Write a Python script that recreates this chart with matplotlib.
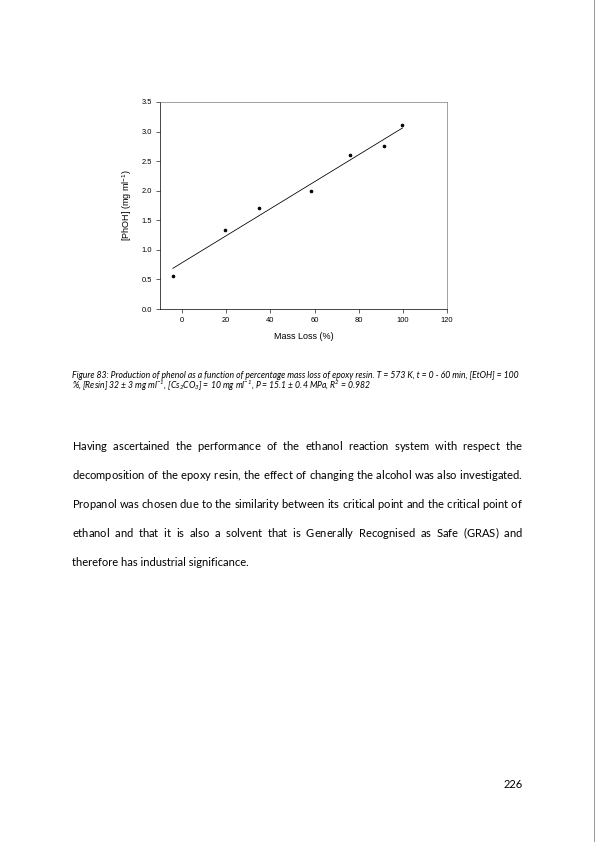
import numpy as np
import matplotlib
matplotlib.use('Agg')
import matplotlib.pyplot as plt

# Datos
mass_loss = [-4.2, 19.3, 34.7, 58.3, 76.1, 91.6, 99.8]
phoh = [0.56, 1.33, 1.71, 1.99, 2.60, 2.75, 3.11]
x_ticks = [0, 20, 40, 60, 80, 100, 120]
y_ticks = [0.0, 0.5, 1.0, 1.5, 2.0, 2.5, 3.0, 3.5]

caption_lines = [
    "Figure 83: Production of phenol as a function of percentage mass loss of epoxy resin. T = 573 K, t = 0 - 60 min, [EtOH] = 100",
    "%, [Resin] 32 ± 3 mg ml$^{-1}$, [Cs$_2$CO$_3$] = 10 mg ml$^{-1}$, P = 15.1 ± 0.4 MPa, R$^2$ = 0.982",
]
body_lines = [
    "Having ascertained the performance of the ethanol reaction system with respect the",
    "decomposition of the epoxy resin, the effect of changing the alcohol was also investigated.",
    "Propanol was chosen due to the similarity between its critical point and the critical point of",
    "ethanol and that it is also a solvent that is Generally Recognised as Safe (GRAS) and",
    "therefore has industrial significance.",
]
page_number = "226"

W, H = 595, 842
LEFT, RIGHT = 72, 523

plt.rcParams['mathtext.default'] = 'regular'
fig = plt.figure(figsize=(W / 72, H / 72), dpi=72)
fig.patch.set_facecolor('white')
renderer = fig.canvas.get_renderer()


def fy(y):
    return 1 - y / H


def width_of(s, **kw):
    t = fig.text(0, 0, s, **kw)
    w = t.get_window_extent(renderer).width
    t.remove()
    return w


# Grafico
ax = fig.add_axes([160 / W, fy(309), (447 - 160) / W, (309 - 102) / H])
ax.plot(mass_loss, phoh, 'o', color='black', markersize=2.6, zorder=5)
k, b = np.polyfit(mass_loss, phoh, 1)
xl = np.array([min(mass_loss), max(mass_loss)])
ax.plot(xl, k * xl + b, color='black', linewidth=0.8)

ax.set_xlim(-10, 120)
ax.set_ylim(0, 3.5)
ax.set_xticks(x_ticks)
ax.set_yticks(y_ticks)
ax.set_yticklabels([f"{v:.1f}" for v in y_ticks])
for lab in ax.get_xticklabels() + ax.get_yticklabels():
    lab.set_family('Liberation Sans')
    lab.set_fontsize(7.5)
ax.tick_params(direction='out', length=4, width=0.6, pad=4, top=False, right=False)
for s in ['left', 'bottom']:
    ax.spines[s].set_linewidth(0.7)
for s in ['top', 'right']:
    ax.spines[s].set_linewidth(0.6)
    ax.spines[s].set_color('#666666')
ax.set_xlabel('Mass Loss (%)', family='Liberation Sans', fontsize=9, labelpad=8)
ax.set_ylabel('[PhOH] (mg ml$^{-1}$)', family='Liberation Sans', fontsize=9, labelpad=7)

# Pie de figura
cap_fs = 8 * (RIGHT - LEFT - 2) / width_of(caption_lines[0], family='Lato', style='italic', fontsize=8)
for line, y in zip(caption_lines, [377.5, 389]):
    fig.text(LEFT / W, fy(y), line, family=['Lato', 'DejaVu Sans'], style='italic',
             fontsize=cap_fs, va='baseline')

# Texto del cuerpo, justificado con \hspace entre palabras
body_fs = 12 * 176 / width_of(body_lines[-1], family='Lato', fontsize=12)
body_font = dict(family='Lato', fontsize=body_fs)


def spaced(words, s):
    return (r"$\hspace{%.4f}$" % s).join(words)


body_y = [450, 479, 508, 537, 566]
for i, (line, y) in enumerate(zip(body_lines, body_y)):
    if i == len(body_lines) - 1:
        txt = line
    else:
        words = line.split()
        w0 = width_of(spaced(words, 0.0), **body_font)
        w1 = width_of(spaced(words, 1.0), **body_font)
        s = (RIGHT - LEFT - w0) / (w1 - w0)
        txt = spaced(words, s)
    fig.text(LEFT / W, fy(y), txt, va='baseline', **body_font)

fig.text(RIGHT / W, fy(788), page_number, ha='right', va='baseline', **body_font)

# Borde derecho de la pagina
fig.add_artist(plt.Line2D([594 / W, 594 / W], [0, 1], color='#9a9a9a', linewidth=1))

fig.savefig('out.png', dpi=72)
